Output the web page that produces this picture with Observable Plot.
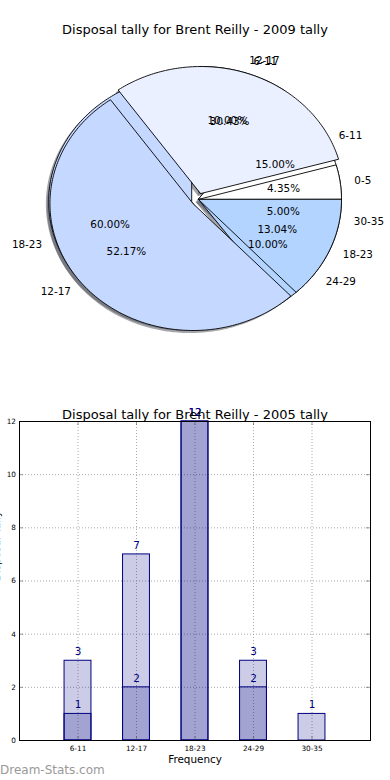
<!DOCTYPE html>
<html><head><meta charset="utf-8">
<script src="https://cdn.jsdelivr.net/npm/d3@7"></script>
<script src="https://cdn.jsdelivr.net/npm/@observablehq/plot@0.6"></script>
<style>
body{margin:0;background:#fff;font-family:"DejaVu Sans",sans-serif;}
#wrap{position:relative;width:390px;height:780px;overflow:hidden;background:#fff;}
#wrap svg{position:absolute;left:0;}
.title{position:absolute;left:0;width:390px;text-align:center;font-size:13px;line-height:16px;color:#000;white-space:nowrap;}
.wm{position:absolute;left:0;font-size:12px;line-height:16px;color:#999;font-weight:500;}
</style></head><body>
<div id="wrap"></div>
<script>
// ---- data ----
const pieTitle = "Disposal tally for Brent Reilly - 2009 tally";
const barTitle = "Disposal tally for Brent Reilly - 2005 tally";
const pieALabels = ["6-11", "12-17", "18-23", "24-29", "30-35"];
const pieAValues = [3, 2, 12, 2, 1];
const pieAExplode = [0, 0.05, 0.05, 0, 0];
const pieBLabels = ["0-5", "6-11", "12-17", "18-23"];
const pieBValues = [1, 7, 12, 3];
const pieBExplode = [0, 0.05, 0.05, 0];
const pieAColors = ["#ffffff", "#eaf0ff", "#c5d8ff", "#b3d4ff", "#9fc6ff"];
const pieBColors = ["#ffffff", "#eaf0ff", "#c5d8ff", "#b3d4ff"];

const barCategories = ["6-11", "12-17", "18-23", "24-29", "30-35"];
const barLight = [3, 7, 12, 3, 1];
const barDark = [1, 2, 12, 2, null];
const yTicks = [0, 2, 4, 6, 8, 10, 12];
const xLabel = "Frequency";
const yLabel = "Disposal Tally";
const watermark = "Dream-Stats.com";

// ---- pie geometry ----
function slices(labels, values, explode, colors, set) {
  const total = d3.sum(values);
  let a0 = 0;
  return values.map((v, i) => {
    const a1 = a0 + v / total * 360;
    const mid = (a0 + a1) / 2 * Math.PI / 180;
    const s = {set, label: labels[i], pct: (v / total * 100).toFixed(2) + "%", a0, a1, mid,
      ox: explode[i] * Math.cos(mid), oy: explode[i] * Math.sin(mid), color: colors[i], key: set + i};
    a0 = a1;
    return s;
  });
}
function outline(s, dx = 0, dy = 0, tag = "") {
  const pts = [{x: s.ox + dx, y: s.oy + dy, key: tag + s.key, color: s.color}];
  const n = Math.max(2, Math.ceil(s.a1 - s.a0));
  for (let k = 0; k <= n; k++) {
    const t = (s.a0 + (s.a1 - s.a0) * k / n) * Math.PI / 180;
    pts.push({x: s.ox + dx + Math.cos(t), y: s.oy + dy + Math.sin(t), key: tag + s.key, color: s.color});
  }
  return pts;
}
const sA = slices(pieALabels, pieAValues, pieAExplode, pieAColors, "A");
const sB = slices(pieBLabels, pieBValues, pieBExplode, pieBColors, "B");
const all = sA.concat(sB);
const shadowPts = all.flatMap(s => outline(s, -0.02, -0.02, "sh"));
const aPts = sA.flatMap(s => outline(s));
const bPts = sB.flatMap(s => outline(s));
const lab = all.map(s => ({...s, lx: s.ox + 1.1 * Math.cos(s.mid), ly: s.oy + 1.1 * Math.sin(s.mid),
  px: s.ox + 0.6 * Math.cos(s.mid), py: s.oy + 0.6 * Math.sin(s.mid)}));

const pie = Plot.plot({
  width: 390, height: 390,
  marginLeft: 55, marginRight: 49, marginTop: 72, marginBottom: 64,
  x: {domain: [-1, 1], axis: null},
  y: {domain: [-1, 1], axis: null},
  color: {type: "identity"},
  style: {fontFamily: "DejaVu Sans", background: "transparent", overflow: "visible"},
  marks: [
    Plot.line(shadowPts, {x: "x", y: "y", z: "key", fill: "#4a4e57", fillOpacity: 0.5, stroke: "none", curve: "linear-closed"}),
    Plot.line(aPts, {x: "x", y: "y", z: "key", fill: "color", stroke: "#000", strokeWidth: 0.9, strokeLinejoin: "miter", curve: "linear-closed"}),
    Plot.line(bPts, {x: "x", y: "y", z: "key", fill: "color", stroke: "#000", strokeWidth: 0.9, strokeLinejoin: "miter", curve: "linear-closed"}),
    Plot.text(lab, {x: "px", y: "py", text: "pct", fill: "#000", fontSize: 10.4}),
    Plot.text(lab.filter(d => Math.cos(d.mid) > 0), {x: "lx", y: "ly", text: "label", textAnchor: "start", fill: "#000", fontSize: 10.4}),
    Plot.text(lab.filter(d => Math.cos(d.mid) <= 0), {x: "lx", y: "ly", text: "label", textAnchor: "end", fill: "#000", fontSize: 10.4})
  ]
});

// ---- bar chart ----
const positions = barCategories.map((c, i) => i + 1);
const barData = barCategories.map((c, i) => ({cat: c, pos: i + 1, light: barLight[i], dark: barDark[i]}));
const darkData = barData.filter(d => d.dark != null);
const hw = 0.23;
const bar = Plot.plot({
  width: 390, height: 390,
  marginLeft: 19, marginRight: 20, marginTop: 31, marginBottom: 40,
  x: {domain: [0, 6]},
  y: {domain: [0, 12]},
  style: {fontFamily: "DejaVu Sans", background: "transparent", overflow: "visible"},
  marks: [
    Plot.gridX(positions, {stroke: "#aaa", strokeOpacity: 1, strokeWidth: 1, strokeDasharray: "1,2"}),
    Plot.gridY(yTicks, {stroke: "#aaa", strokeOpacity: 1, strokeWidth: 1, strokeDasharray: "1,2"}),
    Plot.rect(barData, {x1: d => d.pos - hw, x2: d => d.pos + hw, y1: 0, y2: "light", fill: "navy", fillOpacity: 0.2, stroke: "navy", strokeWidth: 1}),
    Plot.rect(darkData, {x1: d => d.pos - hw, x2: d => d.pos + hw, y1: 0, y2: "dark", fill: "navy", fillOpacity: 0.2, stroke: "navy", strokeWidth: 1}),
    Plot.text(barData, {x: "pos", y: "light", text: d => String(d.light), dy: -9, fill: "navy", fontSize: 10.4}),
    Plot.text(darkData, {x: "pos", y: "dark", text: d => String(d.dark), dy: -9, fill: "navy", fontSize: 10.4}),
    Plot.ruleY(yTicks, {x1: 0, x2: 0.068, stroke: "#555", strokeWidth: 0.6}),
    Plot.ruleY(yTicks, {x1: 5.932, x2: 6, stroke: "#555", strokeWidth: 0.6}),
    Plot.ruleX(positions, {y1: 0, y2: 0.15, stroke: "#555", strokeWidth: 0.6}),
    Plot.ruleX(positions, {y1: 11.85, y2: 12, stroke: "#555", strokeWidth: 0.6}),
    Plot.axisX({ticks: positions, tickFormat: p => barCategories[p - 1], tickSize: 0, tickPadding: 5.5, fontSize: 7.3, label: null}),
    Plot.axisY({ticks: yTicks, tickSize: 0, tickPadding: 3.5, fontSize: 7.3, label: null}),
    Plot.frame({stroke: "#000", strokeWidth: 1}),
    Plot.text([xLabel], {frameAnchor: "bottom", dy: 22.5, fontSize: 10.4, fill: "#000"}),
    Plot.text([yLabel], {frameAnchor: "left", dx: -23, rotate: -90, fontSize: 10.4, fill: "#000"})
  ]
});

const wrap = document.getElementById("wrap");
pie.style.top = "0px";
bar.style.top = "390px";
wrap.appendChild(pie);
wrap.appendChild(bar);
function addDiv(cls, text, top) {
  const d = document.createElement("div");
  d.className = cls; d.textContent = text; d.style.top = top + "px";
  wrap.appendChild(d);
}
addDiv("title", pieTitle, 22);
addDiv("title", barTitle, 407);
addDiv("wm", watermark, 762);
</script>
</body></html>
